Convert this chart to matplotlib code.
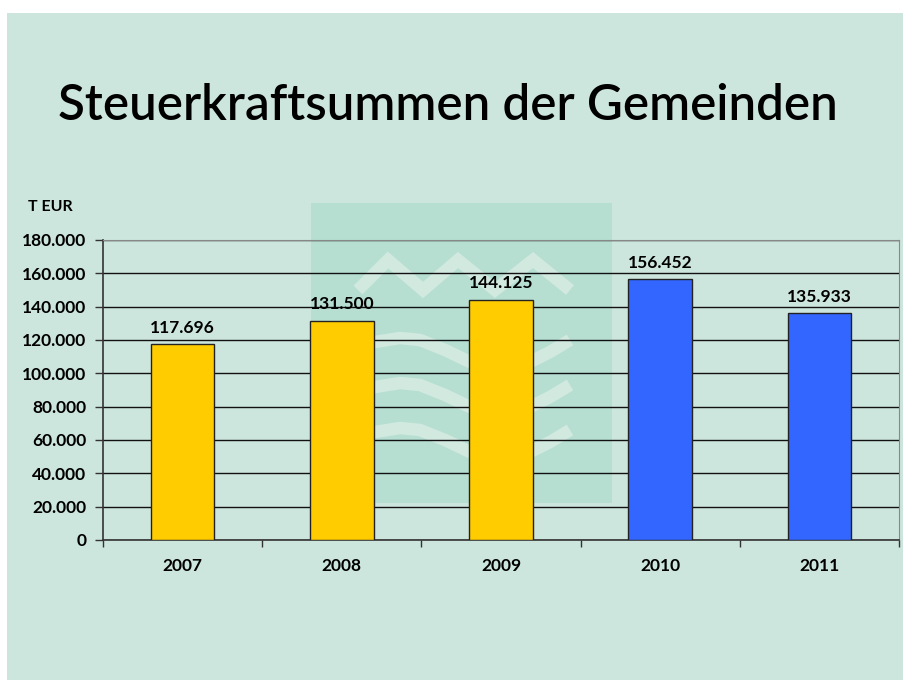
import matplotlib
matplotlib.use('Agg')
import matplotlib.pyplot as plt
from matplotlib.patches import Rectangle
import numpy as np

years = ['2007', '2008', '2009', '2010', '2011']
values = [117696, 131500, 144125, 156452, 135933]
colors = ['#ffcc00', '#ffcc00', '#ffcc00', '#3366ff', '#3366ff']
yticks = np.arange(0, 180001, 20000)

def fmt(v):
    return f'{v:,.0f}'.replace(',', '.')

W, H = 904, 680
fig = plt.figure(figsize=(W / 100, H / 100), dpi=100, facecolor='white')

# slide background
fig.patches.append(Rectangle((7 / W, -0.05), 1.1, 1.05 - 13 / H, transform=fig.transFigure,
                             facecolor='#cde6dd', edgecolor='none', zorder=-5))

# watermark logo behind chart
wm = fig.add_axes([311 / W, 1 - 503 / H, 301 / W, 300 / H], zorder=1)
wm.set_xlim(311, 612)
wm.set_ylim(503, 203)
wm.set_facecolor('#b6dfd2')
wm.axis('off')
wm.add_patch(Rectangle((311, 203), 301, 300, facecolor='#b6dfd2', edgecolor='none'))
zx = [358, 388, 423, 458, 495, 533, 570]
zy = [290, 260, 290, 260, 290, 260, 290]
wm.plot(zx, zy, color='#d2e9e0', lw=9, solid_joinstyle='miter', solid_capstyle='butt')
for dy in (0, 45, 90):
    wx = [345, 375, 400, 420, 445, 470, 500, 530, 550, 570]
    wy = [352, 342, 338, 340, 350, 362, 368, 362, 352, 340]
    wm.plot(wx, [y + dy for y in wy], color='#d2e9e0', lw=9, solid_capstyle='butt')

ax = fig.add_axes([103 / W, 1 - 540 / H, 796 / W, 300 / H], zorder=2)
ax.patch.set_alpha(0)
x = np.arange(len(years))
ax.bar(x, values, width=0.4, color=colors, edgecolor='#222222', linewidth=1, zorder=3)
for xi, v in zip(x, values):
    ax.text(xi, v + 5000, fmt(v), ha='center', va='bottom', fontsize=12.5,
            fontweight='bold', family='Lato', zorder=4)

ax.set_xlim(-0.5, len(years) - 0.5)
ax.set_ylim(0, 180000)
ax.set_yticks(yticks)
ax.set_yticklabels([fmt(t) for t in yticks], fontsize=12.5, fontweight='bold', family='Lato')
ax.set_xticks(x)
ax.set_xticklabels(years, fontsize=12.5, fontweight='bold', family='Lato')
ax.set_xticks(np.arange(-0.5, len(years)), minor=True)
ax.tick_params(axis='x', which='major', length=0, pad=13)
ax.tick_params(axis='x', which='minor', length=5, width=1, color='#333333', direction='out')
ax.tick_params(axis='y', length=6, width=1, color='#333333', pad=6)
ax.grid(axis='y', color='#111111', linewidth=1, zorder=1)
ax.set_axisbelow(True)
for s in ('top', 'right'):
    ax.spines[s].set_color('#888888')
for s in ('left', 'bottom'):
    ax.spines[s].set_color('#333333')
    ax.spines[s].set_linewidth(1.2)

fig.text(28 / W, 1 - 207 / H, 'T EUR', fontsize=11.5, fontweight='bold', family='Lato',
         va='center', ha='left')
fig.text(58 / W, 1 - 106 / H, 'Steuerkraftsummen der Gemeinden', fontsize=35.5,
         family='Lato', fontweight='semibold', va='center', ha='left')

fig.savefig('out.png', dpi=100, facecolor='white')
